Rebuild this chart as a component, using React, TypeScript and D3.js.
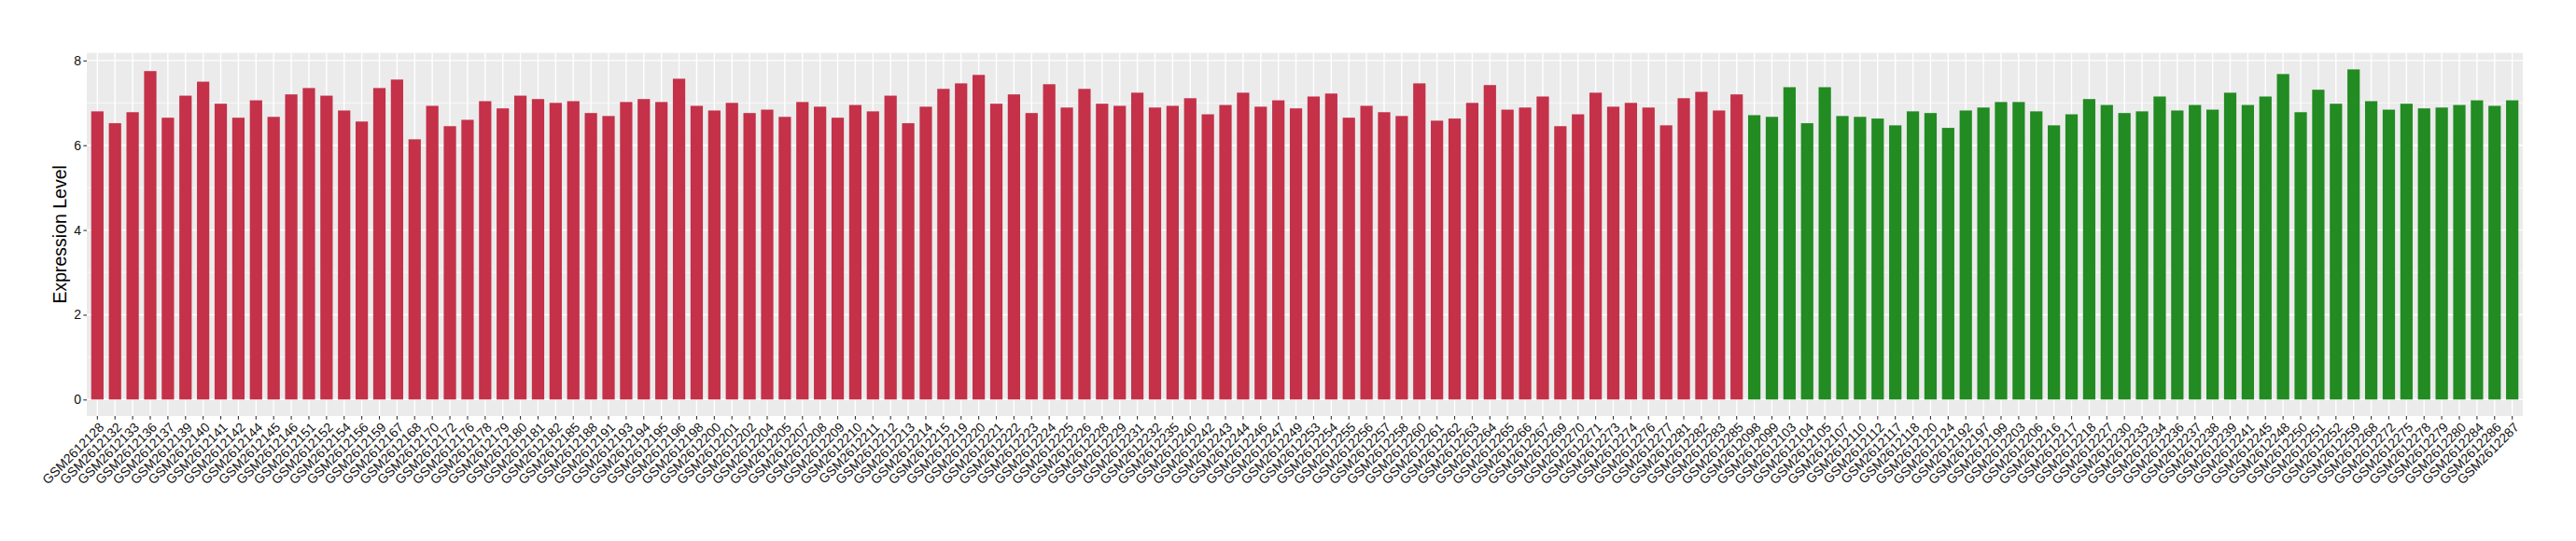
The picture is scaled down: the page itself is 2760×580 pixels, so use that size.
import { useEffect, useRef } from "react";
import { axisBottom, axisLeft, max, scaleBand, scaleLinear, select } from "d3";

// samples of the first group (red bars)
const redSamples = [
  "GSM2612128", "GSM2612132", "GSM2612133", "GSM2612136", "GSM2612137", "GSM2612139",
  "GSM2612140", "GSM2612141", "GSM2612142", "GSM2612144", "GSM2612145", "GSM2612146",
  "GSM2612151", "GSM2612152", "GSM2612154", "GSM2612156", "GSM2612159", "GSM2612167",
  "GSM2612168", "GSM2612170", "GSM2612172", "GSM2612176", "GSM2612178", "GSM2612179",
  "GSM2612180", "GSM2612181", "GSM2612182", "GSM2612185", "GSM2612188", "GSM2612191",
  "GSM2612193", "GSM2612194", "GSM2612195", "GSM2612196", "GSM2612198", "GSM2612200",
  "GSM2612201", "GSM2612202", "GSM2612204", "GSM2612205", "GSM2612207", "GSM2612208",
  "GSM2612209", "GSM2612210", "GSM2612211", "GSM2612212", "GSM2612213", "GSM2612214",
  "GSM2612215", "GSM2612219", "GSM2612220", "GSM2612221", "GSM2612222", "GSM2612223",
  "GSM2612224", "GSM2612225", "GSM2612226", "GSM2612228", "GSM2612229", "GSM2612231",
  "GSM2612232", "GSM2612235", "GSM2612240", "GSM2612242", "GSM2612243", "GSM2612244",
  "GSM2612246", "GSM2612247", "GSM2612249", "GSM2612253", "GSM2612254", "GSM2612255",
  "GSM2612256", "GSM2612257", "GSM2612258", "GSM2612260", "GSM2612261", "GSM2612262",
  "GSM2612263", "GSM2612264", "GSM2612265", "GSM2612266", "GSM2612267", "GSM2612269",
  "GSM2612270", "GSM2612271", "GSM2612273", "GSM2612274", "GSM2612276", "GSM2612277",
  "GSM2612281", "GSM2612282", "GSM2612283", "GSM2612285",
];
const redValues = [
  6.80, 6.52, 6.78, 7.75, 6.65, 7.17, 7.50, 6.98, 6.65, 7.06, 6.67, 7.20,
  7.35, 7.17, 6.82, 6.56, 7.35, 7.55, 6.14, 6.93, 6.45, 6.60, 7.04, 6.87,
  7.17, 7.09, 7.00, 7.04, 6.76, 6.69, 7.02, 7.09, 7.02, 7.57, 6.93, 6.82,
  7.00, 6.76, 6.84, 6.67, 7.02, 6.91, 6.65, 6.95, 6.80, 7.17, 6.52, 6.91,
  7.33, 7.46, 7.66, 6.98, 7.20, 6.76, 7.44, 6.89, 7.33, 6.98, 6.93, 7.24,
  6.89, 6.93, 7.11, 6.73, 6.95, 7.24, 6.91, 7.06, 6.87, 7.15, 7.22, 6.65,
  6.93, 6.78, 6.69, 7.46, 6.58, 6.63, 7.00, 7.42, 6.84, 6.89, 7.15, 6.45,
  6.73, 7.24, 6.91, 7.00, 6.89, 6.47, 7.11, 7.26, 6.82, 7.20,
];

// samples of the second group (green bars)
const greenSamples = [
  "GSM2612098", "GSM2612099", "GSM2612103", "GSM2612104", "GSM2612105", "GSM2612107",
  "GSM2612110", "GSM2612112", "GSM2612117", "GSM2612118", "GSM2612120", "GSM2612124",
  "GSM2612192", "GSM2612197", "GSM2612199", "GSM2612203", "GSM2612206", "GSM2612216",
  "GSM2612217", "GSM2612218", "GSM2612227", "GSM2612230", "GSM2612233", "GSM2612234",
  "GSM2612236", "GSM2612237", "GSM2612238", "GSM2612239", "GSM2612241", "GSM2612245",
  "GSM2612248", "GSM2612250", "GSM2612251", "GSM2612252", "GSM2612259", "GSM2612268",
  "GSM2612272", "GSM2612275", "GSM2612278", "GSM2612279", "GSM2612280", "GSM2612284",
  "GSM2612286", "GSM2612287",
];
const greenValues = [
  6.71, 6.67, 7.37, 6.52, 7.37, 6.69, 6.67, 6.63, 6.47, 6.80, 6.76, 6.41,
  6.82, 6.89, 7.02, 7.02, 6.80, 6.47, 6.73, 7.09, 6.95, 6.76, 6.80, 7.15,
  6.82, 6.95, 6.84, 7.24, 6.95, 7.15, 7.68, 6.78, 7.31, 6.98, 7.79, 7.04,
  6.84, 6.98, 6.87, 6.89, 6.95, 7.06, 6.93, 7.06,
];

const yTicks = [0, 2, 4, 6, 8];
const yMinorTicks = [1, 3, 5, 7];
const yTitle = "Expression Level";

const FONT = "'Liberation Sans', Arial, Helvetica, sans-serif";

function App() {
  const svgRef = useRef<SVGSVGElement>(null);

  useEffect(() => {
    const width = 2760;
    const height = 580;
    const margin = { top: 56.7, right: 57, bottom: 134, left: 93 };

    const samples = [...redSamples, ...greenSamples];
    const values = [...redValues, ...greenValues];
    const colors = samples.map((_, i) => (i < redSamples.length ? "#C43149" : "#228B22"));

    const svg = select(svgRef.current);
    svg.selectAll("*").remove();

    // discrete axis like ggplot: 0.6 unit expansion, bar width 0.7
    const x = scaleBand()
      .domain(samples)
      .range([margin.left, width - margin.right])
      .paddingInner(0.3)
      .paddingOuter(0.25);

    const yMax = max(values) as number;
    const y = scaleLinear()
      .domain([-0.05 * yMax, 1.05 * yMax])
      .range([height - margin.bottom, margin.top]);

    const panelBottom = height - margin.bottom;

    // panel background
    svg
      .append("rect")
      .attr("x", margin.left)
      .attr("y", margin.top)
      .attr("width", width - margin.left - margin.right)
      .attr("height", panelBottom - margin.top)
      .attr("fill", "#EBEBEB");

    // grid lines
    const grid = svg.append("g");
    grid
      .selectAll(".minor")
      .data(yMinorTicks)
      .join("line")
      .attr("x1", margin.left)
      .attr("x2", width - margin.right)
      .attr("y1", (d) => y(d))
      .attr("y2", (d) => y(d))
      .attr("stroke", "#FFFFFF")
      .attr("stroke-width", 0.7);
    grid
      .selectAll(".major")
      .data(yTicks)
      .join("line")
      .attr("x1", margin.left)
      .attr("x2", width - margin.right)
      .attr("y1", (d) => y(d))
      .attr("y2", (d) => y(d))
      .attr("stroke", "#FFFFFF")
      .attr("stroke-width", 1.4);
    grid
      .selectAll(".vmajor")
      .data(samples)
      .join("line")
      .attr("x1", (d) => (x(d) as number) + x.bandwidth() / 2)
      .attr("x2", (d) => (x(d) as number) + x.bandwidth() / 2)
      .attr("y1", margin.top)
      .attr("y2", panelBottom)
      .attr("stroke", "#FFFFFF")
      .attr("stroke-width", 1.4);

    // bars
    svg
      .append("g")
      .selectAll("rect")
      .data(samples)
      .join("rect")
      .attr("x", (d) => x(d) as number)
      .attr("width", x.bandwidth())
      .attr("y", (_, i) => y(values[i]))
      .attr("height", (_, i) => y(0) - y(values[i]))
      .attr("fill", (_, i) => colors[i]);

    // y axis
    svg
      .append("g")
      .attr("transform", `translate(${margin.left},0)`)
      .call(axisLeft(y).tickValues(yTicks).tickSize(3.7).tickPadding(2.3))
      .call((g) => g.select(".domain").remove())
      .call((g) => g.selectAll("line").attr("stroke", "#333333").attr("stroke-width", 1.1))
      .call((g) =>
        g
          .selectAll("text")
          .attr("fill", "#111111")
          .attr("font-family", FONT)
          .attr("font-size", 14)
      );

    // x axis, labels at 45 degrees
    svg
      .append("g")
      .attr("transform", `translate(0,${panelBottom})`)
      .call(axisBottom(x).tickSize(3.7))
      .call((g) => g.select(".domain").remove())
      .call((g) => g.selectAll("line").attr("stroke", "#333333").attr("stroke-width", 1.1))
      .call((g) =>
        g
          .selectAll("text")
          .attr("y", null)
          .attr("dy", null)
          .attr("text-anchor", "end")
          .attr("transform", "translate(8,13) rotate(-45)")
          .attr("fill", "#111111")
          .attr("font-family", FONT)
          .attr("font-size", 14)
      );

    // y title
    svg
      .append("text")
      .attr("transform", `translate(71,${(margin.top + panelBottom) / 2}) rotate(-90)`)
      .attr("text-anchor", "middle")
      .attr("font-family", FONT)
      .attr("font-size", 19.5)
      .attr("fill", "#000000")
      .text(yTitle);
  }, []);

  return (
    <svg
      ref={svgRef}
      width={2760}
      height={580}
      style={{ position: "absolute", left: 0, top: 0, background: "#FFFFFF" }}
    />
  );
}

export default App;
